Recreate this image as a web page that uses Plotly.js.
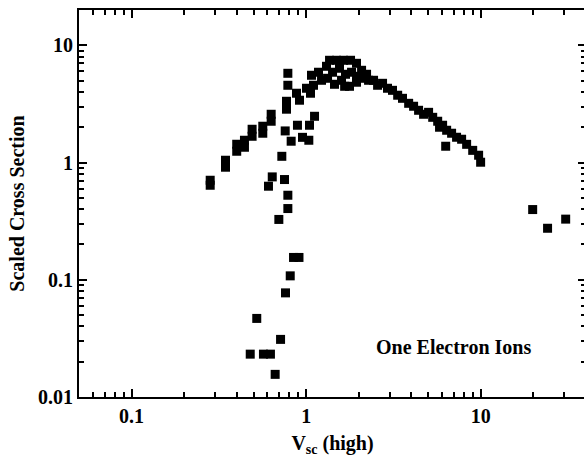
<!DOCTYPE html>
<html>
<head>
<meta charset="utf-8">
<script src="https://cdn.plot.ly/plotly-3.0.1.min.js"></script>
<style>
html,body{margin:0;padding:0;overflow:hidden;background:#fff;}
#chart{width:590px;height:460px;}
</style>
</head>
<body>
<div id="chart"></div>
<script>
// Data (V_sc, scaled cross section)
var vsc = [
  0.282,0.282,0.345,0.345,0.400,0.400,0.443,0.443,0.490,0.490,0.564,0.564,0.630,0.630,
  0.785,0.785,0.771,0.771,0.758,0.820,0.725,0.639,0.751,0.608,0.785,0.785,0.697,
  0.846,0.909,0.810,0.761,0.521,0.713,0.478,0.569,0.624,0.664,
  0.891,1.044,1.116,0.952,1.035,
  0.880,0.915,1.004,1.101,1.058,1.072,1.176,1.224,
  1.307,1.360,1.492,1.636,1.794,1.941,1.325,1.415,1.551,1.679,1.452,1.593,1.818,1.942,
  2.075,2.216,1.940,2.075,2.275,2.430,2.563,2.736,2.920,3.120,3.340,3.560,3.860,4.120,
  4.400,4.700,5.020,5.300,5.660,6.040,6.370,6.800,7.260,7.760,8.290,8.980,9.710,9.970,
  6.290,5.800,1.660,1.770,
  19.8,24.1,30.6
];
var sigma = [
  0.706,0.640,1.046,0.912,1.432,1.248,1.549,1.350,1.922,1.675,2.040,1.778,2.580,2.250,
  5.770,4.560,3.330,2.850,1.860,1.520,1.130,0.754,0.716,0.628,0.526,0.405,0.327,
  0.155,0.155,0.108,0.0773,0.0468,0.0310,0.0232,0.0232,0.0232,0.0156,
  2.080,2.080,2.480,1.640,1.549,
  3.900,3.400,4.300,4.560,3.900,5.550,5.890,5.030,
  6.620,7.450,7.450,7.450,7.450,7.020,5.230,5.890,6.370,5.660,4.650,5.030,5.890,5.440,
  6.120,5.660,4.840,5.230,5.030,5.030,4.560,4.740,4.300,4.130,3.750,3.530,3.200,3.020,
  2.790,2.580,2.680,2.430,2.250,2.080,1.885,1.778,1.643,1.580,1.430,1.270,1.154,1.006,
  1.377,2.000,4.470,4.470,
  0.397,0.275,0.329
];

var xTickVals = [0.1, 1, 10];
var xTickText = ['0.1', '1', '10'];
var yTickVals = [0.01, 0.1, 1, 10];
var yTickText = ['0.01', '0.1', '1', '10'];
var xMinorVals = [0.06,0.07,0.08,0.09,0.2,0.3,0.4,0.5,0.6,0.7,0.8,0.9,2,3,4,5,6,7,8,9,20,30];
var yMinorVals = [0.02,0.03,0.04,0.05,0.06,0.07,0.08,0.09,0.2,0.3,0.4,0.5,0.6,0.7,0.8,0.9,2,3,4,5,6,7,8,9];

var serif = 'Liberation Serif, Times New Roman, Times, serif';
var bold = {family: serif, size: 20, color: '#000', weight: 'bold'};

var trace = {
  x: vsc, y: sigma, type: 'scatter', mode: 'markers',
  marker: {symbol: 'square', size: 9, color: '#000', line: {width: 0}},
  hoverinfo: 'x+y', showlegend: false
};

var axisCommon = {
  type: 'log', showgrid: false, zeroline: false,
  showline: true, linecolor: '#000', linewidth: 2, mirror: 'ticks',
  ticks: 'inside', ticklen: 8, tickwidth: 2, tickcolor: '#000',
  tickmode: 'array', tickfont: bold,
  minor: {ticks: 'inside', ticklen: 5, tickwidth: 2, tickcolor: '#000', showgrid: false, tickmode: 'array'}
};

var layout = {
  width: 590, height: 460,
  margin: {l: 79, r: 4, t: 10, b: 63},
  paper_bgcolor: '#fff', plot_bgcolor: '#fff',
  xaxis: Object.assign({}, axisCommon, {
    range: [Math.log10(0.05), Math.log10(40)],
    tickvals: xTickVals, ticktext: xTickText,
    minor: Object.assign({}, axisCommon.minor, {tickvals: xMinorVals}),
    title: {text: 'V<sub>sc</sub> (high)', font: bold, standoff: 10}
  }),
  yaxis: Object.assign({}, axisCommon, {
    range: [Math.log10(0.01), Math.log10(20)],
    tickvals: yTickVals, ticktext: yTickText,
    minor: Object.assign({}, axisCommon.minor, {tickvals: yMinorVals}),
    title: {text: 'Scaled Cross Section', font: bold, standoff: 8}
  }),
  annotations: [{
    text: 'One Electron Ions', xref: 'paper', yref: 'paper',
    x: 0.738, y: 0.128, xanchor: 'center', yanchor: 'middle',
    showarrow: false, font: bold
  }]
};

Plotly.newPlot('chart', [trace], layout, {staticPlot: true, displayModeBar: false});
</script>
</body>
</html>
